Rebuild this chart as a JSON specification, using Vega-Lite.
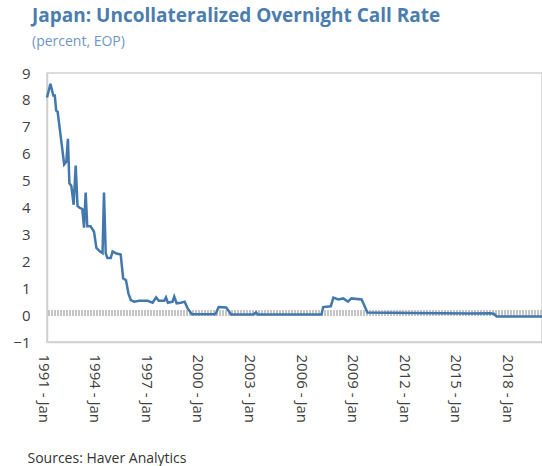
{
  "$schema": "https://vega.github.io/schema/vega-lite/v6.json",
  "width": 495,
  "height": 269,
  "autosize": {"type": "none"},
  "padding": {"left": 47, "top": 73, "right": 0, "bottom": 124},
  "background": "white",
  "title": {
    "text": "Japan: Uncollateralized Overnight Call Rate",
    "subtitle": "(percent, EOP)",
    "anchor": "start",
    "frame": "group",
    "dx": -15,
    "offset": 17,
    "font": "Open Sans",
    "fontSize": 19,
    "fontWeight": "bold",
    "color": "#4a7dad",
    "subtitleFont": "Open Sans",
    "subtitleFontSize": 14,
    "subtitleColor": "#7096c4",
    "subtitlePadding": 9
  },
  "config": {
    "view": {"stroke": "#d0d0d0", "strokeWidth": 1.5},
    "axis": {
      "labelFont": "Open Sans",
      "labelFontSize": 15,
      "labelColor": "#404040",
      "labelOverlap": false,
      "labelLimit": 300,
      "grid": false,
      "ticks": false,
      "domainColor": "#d0d0d0",
      "domainWidth": 1.5
    }
  },
  "data": {
    "values": [
      {"date": "1991-01-01", "rate": 8.09},
      {"date": "1991-03-15", "rate": 8.6},
      {"date": "1991-05-15", "rate": 8.16},
      {"date": "1991-06-15", "rate": 8.16},
      {"date": "1991-07-15", "rate": 7.6},
      {"date": "1991-08-15", "rate": 7.56},
      {"date": "1992-01-01", "rate": 5.6},
      {"date": "1992-02-15", "rate": 5.7},
      {"date": "1992-03-20", "rate": 6.55},
      {"date": "1992-04-20", "rate": 4.9},
      {"date": "1992-06-01", "rate": 4.8},
      {"date": "1992-07-20", "rate": 4.1},
      {"date": "1992-09-01", "rate": 5.56},
      {"date": "1992-10-10", "rate": 4.06},
      {"date": "1992-11-15", "rate": 4.0},
      {"date": "1993-01-20", "rate": 3.94},
      {"date": "1993-02-25", "rate": 3.25},
      {"date": "1993-04-01", "rate": 4.56},
      {"date": "1993-05-05", "rate": 3.3},
      {"date": "1993-07-15", "rate": 3.3},
      {"date": "1993-09-25", "rate": 3.1},
      {"date": "1993-11-15", "rate": 2.5},
      {"date": "1994-01-25", "rate": 2.37},
      {"date": "1994-03-25", "rate": 2.3},
      {"date": "1994-04-25", "rate": 4.56},
      {"date": "1994-06-01", "rate": 2.3},
      {"date": "1994-07-05", "rate": 2.12},
      {"date": "1994-09-15", "rate": 2.12},
      {"date": "1994-10-25", "rate": 2.37},
      {"date": "1995-01-01", "rate": 2.3},
      {"date": "1995-04-15", "rate": 2.25},
      {"date": "1995-06-05", "rate": 1.37},
      {"date": "1995-08-05", "rate": 1.3},
      {"date": "1995-09-25", "rate": 0.81},
      {"date": "1995-11-15", "rate": 0.56},
      {"date": "1996-01-25", "rate": 0.5},
      {"date": "1996-05-10", "rate": 0.53},
      {"date": "1996-11-05", "rate": 0.53},
      {"date": "1997-02-20", "rate": 0.46},
      {"date": "1997-05-05", "rate": 0.66},
      {"date": "1997-07-01", "rate": 0.53},
      {"date": "1997-10-25", "rate": 0.53},
      {"date": "1997-12-01", "rate": 0.66},
      {"date": "1998-01-10", "rate": 0.46},
      {"date": "1998-04-20", "rate": 0.5},
      {"date": "1998-05-25", "rate": 0.69},
      {"date": "1998-07-15", "rate": 0.44},
      {"date": "1998-10-15", "rate": 0.46},
      {"date": "1999-01-01", "rate": 0.5},
      {"date": "1999-03-05", "rate": 0.25},
      {"date": "1999-06-05", "rate": 0.03},
      {"date": "2000-10-15", "rate": 0.03},
      {"date": "2000-12-25", "rate": 0.3},
      {"date": "2001-06-01", "rate": 0.28},
      {"date": "2001-09-15", "rate": 0.02},
      {"date": "2003-01-01", "rate": 0.02},
      {"date": "2003-02-25", "rate": 0.1},
      {"date": "2003-04-01", "rate": 0.02},
      {"date": "2006-12-15", "rate": 0.02},
      {"date": "2007-01-20", "rate": 0.3},
      {"date": "2007-07-01", "rate": 0.33},
      {"date": "2007-08-25", "rate": 0.65},
      {"date": "2007-12-05", "rate": 0.58},
      {"date": "2008-03-20", "rate": 0.62},
      {"date": "2008-06-30", "rate": 0.5},
      {"date": "2008-09-10", "rate": 0.62},
      {"date": "2009-04-15", "rate": 0.58},
      {"date": "2009-06-15", "rate": 0.35},
      {"date": "2009-08-15", "rate": 0.1},
      {"date": "2012-04-01", "rate": 0.08},
      {"date": "2015-08-01", "rate": 0.06},
      {"date": "2016-10-01", "rate": 0.07},
      {"date": "2016-12-20", "rate": 0.05},
      {"date": "2017-02-20", "rate": -0.05},
      {"date": "2019-10-10", "rate": -0.05}
    ]
  },
  "layer": [
    {
      "mark": {"type": "rule", "strokeWidth": 5, "color": "#c4c4c4", "strokeDash": [2, 1]},
      "encoding": {
        "y": {
          "datum": 0.09,
          "type": "quantitative",
          "scale": {"domain": [-1, 9], "nice": false, "zero": false},
          "axis": {
            "values": [-1, 0, 1, 2, 3, 4, 5, 6, 7, 8, 9],
            "labelOverlap": false,
            "labelPadding": 17,
            "title": null
          }
        }
      }
    },
    {
      "mark": {"type": "line", "strokeWidth": 2.5, "color": "#4278ad"},
      "encoding": {
        "x": {
          "field": "date",
          "type": "temporal",
          "scale": {
            "type": "utc",
            "domain": [
              {"year": 1991, "month": 1, "date": 1, "utc": true},
              {"year": 2019, "month": 10, "date": 10, "utc": true}
            ]
          },
          "axis": {
            "values": [
              {"year": 1991, "month": 1, "date": 1, "utc": true},
              {"year": 1994, "month": 1, "date": 1, "utc": true},
              {"year": 1997, "month": 1, "date": 1, "utc": true},
              {"year": 2000, "month": 1, "date": 1, "utc": true},
              {"year": 2003, "month": 1, "date": 1, "utc": true},
              {"year": 2006, "month": 1, "date": 1, "utc": true},
              {"year": 2009, "month": 1, "date": 1, "utc": true},
              {"year": 2012, "month": 1, "date": 1, "utc": true},
              {"year": 2015, "month": 1, "date": 1, "utc": true},
              {"year": 2018, "month": 1, "date": 1, "utc": true}
            ],
            "labelExpr": "utcFormat(datum.value, '%Y - %b')",
            "labelAngle": 90,
            "labelAlign": "left",
            "labelBaseline": "middle",
            "labelPadding": 12,
            "labelOffset": -4,
            "labelOverlap": false,
            "title": "Sources: Haver Analytics",
            "titleX": -20,
            "titleY": 120,
            "titleAlign": "left",
            "titleAnchor": "start",
            "titleBaseline": "alphabetic",
            "titleFont": "Open Sans",
            "titleFontSize": 14,
            "titleFontWeight": "normal",
            "titleColor": "#333333"
          }
        },
        "y": {
          "field": "rate",
          "type": "quantitative",
          "scale": {"domain": [-1, 9], "nice": false, "zero": false},
          "axis": {
            "values": [-1, 0, 1, 2, 3, 4, 5, 6, 7, 8, 9],
            "labelOverlap": false,
            "labelPadding": 17,
            "title": null
          }
        }
      }
    }
  ]
}
